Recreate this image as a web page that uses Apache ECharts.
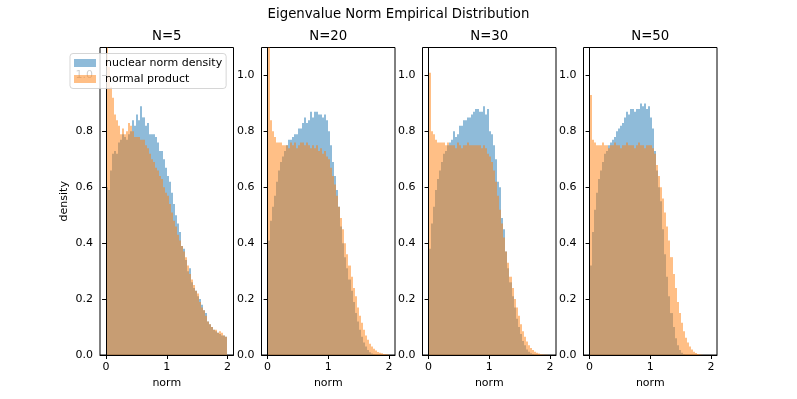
<!DOCTYPE html>
<html>
<head>
<meta charset="utf-8">
<script src="https://cdn.jsdelivr.net/npm/echarts@6/dist/echarts.min.js"></script>
<style>
html, body { margin: 0; padding: 0; background: #fff; }
#chart { width: 797px; height: 399px; }
</style>
</head>
<body>
<div id="chart"></div>
<script>
// 60 equal-width bins on [0, 2], density per bin
var binLo = 0;
var binHi = 2;
var binCount = 60;

var panelTitles = ['N=5', 'N=20', 'N=30', 'N=50'];
var xTicks = [0, 1, 2];
var yTicks = [0, 0.2, 0.4, 0.6, 0.8, 1.0];

var nuclearN5 = [0.60, 0.59, 0.66, 0.72, 0.73, 0.72, 0.76, 0.77, 0.79, 0.78,
                 0.77, 0.79, 0.80, 0.84, 0.82, 0.86, 0.84, 0.89, 0.85, 0.82,
                 0.83, 0.79, 0.79, 0.79, 0.78, 0.76, 0.73, 0.73, 0.70, 0.67,
                 0.64, 0.62, 0.58, 0.54, 0.50, 0.47, 0.44, 0.39, 0.38, 0.34,
                 0.30, 0.31, 0.26, 0.24, 0.23, 0.21, 0.20, 0.18, 0.16, 0.15,
                 0.12, 0.11, 0.10, 0.09, 0.085, 0.08, 0.075, 0.07, 0.07, 0.065];
var productN5 = [1.30, 1.03, 0.96, 0.92, 0.86, 0.84, 0.82, 0.79, 0.81, 0.79,
                 0.80, 0.83, 0.82, 0.80, 0.78, 0.78, 0.78, 0.77, 0.77, 0.75,
                 0.74, 0.72, 0.70, 0.69, 0.67, 0.66, 0.64, 0.63, 0.60, 0.58,
                 0.57, 0.54, 0.51, 0.48, 0.46, 0.43, 0.41, 0.39, 0.37, 0.35,
                 0.32, 0.29, 0.27, 0.25, 0.23, 0.22, 0.19, 0.17, 0.16, 0.14,
                 0.12, 0.11, 0.10, 0.09, 0.09, 0.08, 0.085, 0.08, 0.07, 0.065];

var nuclearN20 = [0.41, 0.48, 0.53, 0.57, 0.62, 0.66, 0.69, 0.71, 0.73, 0.75,
                  0.77, 0.77, 0.78, 0.79, 0.79, 0.81, 0.81, 0.83, 0.85, 0.83,
                  0.84, 0.87, 0.85, 0.87, 0.87, 0.86, 0.86, 0.85, 0.86, 0.84,
                  0.80, 0.75, 0.69, 0.64, 0.59, 0.53, 0.46, 0.40, 0.35, 0.31,
                  0.27, 0.23, 0.19, 0.15, 0.12, 0.09, 0.065, 0.045, 0.03, 0.018,
                  0.01, 0.005, 0.002, 0, 0, 0, 0, 0, 0, 0];
var productN20 = [1.60, 0.84, 0.80, 0.78, 0.76, 0.76, 0.76, 0.75, 0.75, 0.75,
                  0.74, 0.76, 0.75, 0.76, 0.74, 0.75, 0.76, 0.76, 0.75, 0.76,
                  0.75, 0.74, 0.75, 0.74, 0.75, 0.73, 0.74, 0.72, 0.73, 0.71,
                  0.70, 0.67, 0.64, 0.61, 0.57, 0.53, 0.49, 0.45, 0.40, 0.36,
                  0.32, 0.28, 0.24, 0.21, 0.17, 0.14, 0.115, 0.09, 0.07, 0.055,
                  0.04, 0.03, 0.022, 0.016, 0.011, 0.008, 0.006, 0.004, 0.003, 0.002];

var nuclearN30 = [0.38, 0.47, 0.53, 0.59, 0.63, 0.66, 0.69, 0.72, 0.73, 0.75,
                  0.76, 0.77, 0.80, 0.78, 0.79, 0.82, 0.82, 0.84, 0.84, 0.85,
                  0.85, 0.86, 0.87, 0.88, 0.88, 0.87, 0.87, 0.89, 0.86, 0.88,
                  0.80, 0.79, 0.75, 0.70, 0.62, 0.60, 0.49, 0.45, 0.37, 0.31,
                  0.26, 0.21, 0.17, 0.13, 0.10, 0.075, 0.05, 0.035, 0.02, 0.012,
                  0.006, 0.003, 0, 0, 0, 0, 0, 0, 0, 0];
var productN30 = [1.01, 0.80, 0.79, 0.77, 0.76, 0.76, 0.76, 0.76, 0.75, 0.76,
                  0.75, 0.75, 0.75, 0.74, 0.76, 0.75, 0.74, 0.75, 0.75, 0.76,
                  0.75, 0.75, 0.75, 0.75, 0.75, 0.75, 0.74, 0.75, 0.74, 0.72,
                  0.71, 0.69, 0.66, 0.62, 0.57, 0.52, 0.47, 0.42, 0.37, 0.33,
                  0.28, 0.24, 0.20, 0.17, 0.14, 0.11, 0.085, 0.065, 0.048, 0.035,
                  0.025, 0.018, 0.012, 0.008, 0.005, 0.003, 0.002, 0.001, 0.001, 0];

var nuclearN50 = [0.32, 0.44, 0.52, 0.58, 0.63, 0.66, 0.69, 0.72, 0.73, 0.75,
                  0.76, 0.77, 0.78, 0.80, 0.81, 0.82, 0.83, 0.85, 0.87, 0.86,
                  0.88, 0.88, 0.87, 0.88, 0.88, 0.90, 0.89, 0.90, 0.88, 0.89,
                  0.85, 0.81, 0.73, 0.66, 0.60, 0.55, 0.45, 0.36, 0.28, 0.21,
                  0.15, 0.10, 0.06, 0.035, 0.018, 0.008, 0.003, 0, 0, 0,
                  0, 0, 0, 0, 0, 0, 0, 0, 0, 0];
var productN50 = [0.93, 0.77, 0.76, 0.75, 0.75, 0.75, 0.76, 0.75, 0.75, 0.74,
                  0.75, 0.75, 0.76, 0.75, 0.75, 0.74, 0.75, 0.75, 0.76, 0.75,
                  0.75, 0.75, 0.74, 0.75, 0.76, 0.75, 0.75, 0.74, 0.75, 0.75,
                  0.75, 0.74, 0.72, 0.68, 0.64, 0.60, 0.56, 0.51, 0.46, 0.41,
                  0.35, 0.29, 0.24, 0.19, 0.15, 0.115, 0.085, 0.062, 0.045, 0.03,
                  0.02, 0.012, 0.007, 0.004, 0.002, 0.001, 0, 0, 0, 0];

var nuclearSets = [nuclearN5, nuclearN20, nuclearN30, nuclearN50];
var productSets = [productN5, productN20, productN30, productN50];

var blueFill = 'rgba(31,119,180,0.5)';
var orangeFill = 'rgba(255,127,14,0.5)';
var font = 'DejaVu Sans';

// panel boxes (pixels)
var panelLeft = [100, 261.5, 422.5, 583.5];
var panelWidth = 133.5;
var panelTop = 47.5;
var panelHeight = 307.5;

function toBins(values) {
    var step = (binHi - binLo) / binCount;
    return values.map(function (v, i) {
        return [binLo + i * step, binLo + (i + 1) * step, v];
    });
}

function renderBin(params, api) {
    var p0 = api.coord([api.value(0), api.value(2)]);
    var p1 = api.coord([api.value(1), 0]);
    // snap bin edges to whole pixels so neighbours meet without seams
    var x0 = Math.round(p0[0]), x1 = Math.round(p1[0]);
    var shape = echarts.graphic.clipRectByRect({
        x: x0, y: p0[1], width: x1 - x0, height: p1[1] - p0[1]
    }, {
        x: params.coordSys.x, y: params.coordSys.y,
        width: params.coordSys.width, height: params.coordSys.height
    });
    return shape && { type: 'rect', shape: shape, style: api.style() };
}

var grids = [], xAxes = [], yAxes = [], series = [], texts = [];

panelTitles.forEach(function (title, i) {
    grids.push({
        left: panelLeft[i], top: panelTop, width: panelWidth, height: panelHeight,
        show: true, borderColor: '#000', borderWidth: 1, backgroundColor: 'transparent'
    });
    xAxes.push({
        gridIndex: i, type: 'value', min: -0.1, max: 2.1, z: 3,
        name: 'norm', nameLocation: 'middle', nameGap: 22,
        nameTextStyle: { fontFamily: font, fontSize: 11, color: '#000' },
        axisLine: { show: true, onZero: false, lineStyle: { color: '#000', width: 1 } },
        axisTick: { show: true, customValues: xTicks, length: 4, lineStyle: { color: '#000' } },
        axisLabel: { customValues: xTicks, fontFamily: font, fontSize: 11, color: '#000', margin: 7 },
        splitLine: { show: false }
    });
    yAxes.push({
        gridIndex: i, type: 'value', min: 0, max: 1.1, z: 3,
        name: i === 0 ? 'density' : '', nameLocation: 'middle', nameGap: 30,
        nameTextStyle: { fontFamily: font, fontSize: 11, color: '#000' },
        axisLine: { show: true, lineStyle: { color: '#000', width: 1 } },
        axisTick: { show: true, customValues: yTicks, length: 4, lineStyle: { color: '#000' } },
        axisLabel: {
            customValues: yTicks, fontFamily: font, fontSize: 11, color: '#000', margin: 7,
            formatter: function (v) { return v.toFixed(1); }
        },
        splitLine: { show: false }
    });
    series.push({
        type: 'custom', name: 'nuclear norm density', xAxisIndex: i, yAxisIndex: i,
        renderItem: renderBin, encode: { x: [0, 1], y: 2 },
        itemStyle: { color: blueFill }, data: toBins(nuclearSets[i]), silent: true
    });
    series.push({
        type: 'custom', name: 'normal product', xAxisIndex: i, yAxisIndex: i,
        renderItem: renderBin, encode: { x: [0, 1], y: 2 },
        itemStyle: { color: orangeFill }, data: toBins(productSets[i]), silent: true
    });
    texts.push({
        type: 'text', x: panelLeft[i] + panelWidth / 2, y: 37,
        style: { text: title, fontFamily: font, fontSize: 13.3, fill: '#000',
                 textAlign: 'center', textVerticalAlign: 'middle' }
    });
});

texts.push({
    type: 'text', x: 398.5, y: 15,
    style: { text: 'Eigenvalue Norm Empirical Distribution', fontFamily: font, fontSize: 13.3,
             fill: '#000', textAlign: 'center', textVerticalAlign: 'middle' }
});

var chart = echarts.init(document.getElementById('chart'));
chart.setOption({
    animation: false,
    backgroundColor: '#fff',
    grid: grids,
    xAxis: xAxes,
    yAxis: yAxes,
    series: series,
    graphic: texts,
    legend: {
        orient: 'vertical', left: 70, top: 53.5,
        padding: [4, 4, 4, 4], itemGap: 5,
        itemWidth: 22, itemHeight: 8, icon: 'rect',
        backgroundColor: 'rgba(255,255,255,0.8)',
        borderColor: 'rgba(204,204,204,0.8)', borderWidth: 1, borderRadius: 3,
        textStyle: { fontFamily: font, fontSize: 11, color: '#000', padding: [0, 0, 0, 4] },
        data: ['nuclear norm density', 'normal product']
    }
});
</script>
</body>
</html>
